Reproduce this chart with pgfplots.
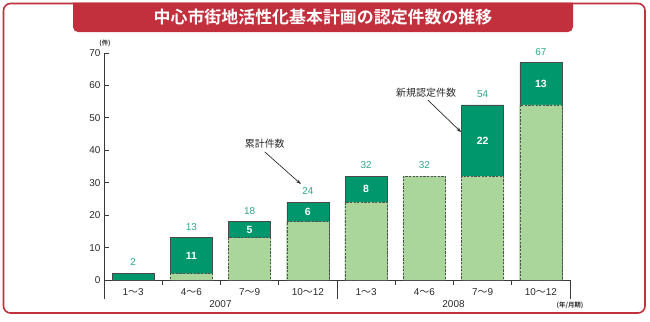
\documentclass[border=0pt]{standalone}
\usepackage{pgfplots}
\pgfplotsset{compat=1.18}
\usetikzlibrary{arrows.meta}
\usepackage{fontspec}
\setmainfont{Liberation Sans}
\newfontfamily\jp{Noto Sans CJK JP}[BoldFont={Noto Sans CJK JP Bold}]
\definecolor{dkgreen}{HTML}{00976C}
\definecolor{ltgreen}{HTML}{AAD59B}
\definecolor{labteal}{HTML}{2AA78B}
\definecolor{framered}{HTML}{C2303D}
\definecolor{axisgray}{HTML}{3A3A3A}
\definecolor{textgray}{HTML}{2A2A2A}
\definecolor{bardark}{HTML}{4A4A4A}
\definecolor{dashgray}{HTML}{4F4F4F}
\begin{document}
\begin{tikzpicture}
\begin{scope}[x=1bp,y=1bp]
\useasboundingbox (0,0) rectangle (650,321);
\draw[framered, line width=1.6bp, rounded corners=7bp] (3.5,317.5) rectangle (645,8);
\fill[framered] (73,318.3) [rounded corners=5bp] -- (73,289) -- (573,289) [sharp corners] -- (573,318.3) -- cycle;
\node[text=white, font=\jp\bfseries\fontsize{17}{20}\selectfont] at (323,304) {中心市街地活性化基本計画の認定件数の推移};
\end{scope}
\begin{axis}[at={(104bp,41bp)}, anchor=south west, scale only axis,
  width=466bp, height=227bp,
  xmin=-0.5, xmax=7.5, ymin=0, ymax=70,
  axis x line*=bottom, axis y line*=left,
  axis line style={-, line width=0.9bp, draw=axisgray},
  xtick=\empty, ytick={0,10,...,70},
  tick align=inside, major tick length=5bp,
  y tick style={line width=0.9bp, draw=axisgray},
  yticklabel style={font=\fontsize{10}{12}\selectfont, text=textgray},
  /pgf/number format/assume math mode=true,
  clip=false]
\addplot[ybar, bar width=42bp, bar shift=0pt, fill=dkgreen, draw=bardark, line width=0.7bp]
  coordinates {(0,2) (1,13) (2,18) (3,24) (4,32) (6,54) (7,67)};
\addplot[ybar, bar width=42.9bp, bar shift=0pt, fill=ltgreen, draw=none]
  coordinates {(1,2) (2,13) (3,18) (4,24) (5,32) (6,32) (7,54)};
\addplot[ybar, bar width=42bp, bar shift=0pt, fill=none, draw=dashgray, line width=0.7bp, dash pattern=on 2.2bp off 1.4bp]
  coordinates {(1,2) (2,13) (3,18) (4,24) (5,32) (6,32) (7,54)};
% cumulative labels
\addplot[draw=none, nodes near coords, point meta=explicit symbolic,
  nodes near coords style={anchor=center, yshift=11bp, text=labteal, font=\fontsize{10}{12}\selectfont}]
  coordinates {(0,2)[2] (1,13)[13] (2,18)[18] (3,24)[24] (4,32)[32] (5,32)[32] (6,54)[54] (7,67)[67]};
% new certification labels
\addplot[draw=none, nodes near coords, point meta=explicit symbolic,
  nodes near coords style={anchor=center, text=white, font=\bfseries\fontsize{10.5}{12}\selectfont}]
  coordinates {(1,7.5)[11] (2,15.5)[5] (3,21)[6] (4,28)[8] (6,43)[22] (7,60.5)[13]};
% separators
\pgfplotsinvokeforeach{0.5,1.5,2.5,4.5,5.5,6.5}{
  \draw[axisgray, line width=0.9bp] (axis cs:#1,0) -- ++(0pt,-5bp);
}
\pgfplotsinvokeforeach{-0.5,3.5,7.5}{
  \draw[axisgray, line width=0.9bp] (axis cs:#1,0) -- ++(0pt,-19bp);
}
% category labels
\node[font=\fontsize{10}{12}\selectfont, text=textgray, yshift=-12bp] at (axis cs:0,0) {1{\jp ～}3};
\node[font=\fontsize{10}{12}\selectfont, text=textgray, yshift=-12bp] at (axis cs:1,0) {4{\jp ～}6};
\node[font=\fontsize{10}{12}\selectfont, text=textgray, yshift=-12bp] at (axis cs:2,0) {7{\jp ～}9};
\node[font=\fontsize{10}{12}\selectfont, text=textgray, yshift=-12bp] at (axis cs:3,0) {10{\jp ～}12};
\node[font=\fontsize{10}{12}\selectfont, text=textgray, yshift=-12bp] at (axis cs:4,0) {1{\jp ～}3};
\node[font=\fontsize{10}{12}\selectfont, text=textgray, yshift=-12bp] at (axis cs:5,0) {4{\jp ～}6};
\node[font=\fontsize{10}{12}\selectfont, text=textgray, yshift=-12bp] at (axis cs:6,0) {7{\jp ～}9};
\node[font=\fontsize{10}{12}\selectfont, text=textgray, yshift=-12bp] at (axis cs:7,0) {10{\jp ～}12};
\node[font=\fontsize{10}{12}\selectfont, text=textgray, yshift=-24bp] at (axis cs:1.5,0) {2007};
\node[font=\fontsize{10}{12}\selectfont, text=textgray, yshift=-24bp] at (axis cs:5.5,0) {2008};
\node[font=\jp\bfseries\fontsize{6.5}{8}\selectfont, text=textgray, yshift=-25bp] at (axis cs:7.5,0) {(年/月期)};
\node[font=\jp\bfseries\fontsize{6.5}{8}\selectfont, text=textgray, xshift=1bp, yshift=10bp] at (axis cs:-0.5,70) {(件)};
% annotations
\node[font=\jp\fontsize{10}{12}\selectfont, text=textgray] at (axis cs:2.26,41.9) {累計件数};
\draw[-{Stealth[length=5bp,width=3.5bp]}, line width=0.7bp, draw=textgray] (axis cs:2.26,39.5) -- (axis cs:2.88,29.6);
\node[font=\jp\fontsize{10}{12}\selectfont, text=textgray] at (axis cs:5.03,57.7) {新規認定件数};
\draw[-{Stealth[length=5bp,width=3.5bp]}, line width=0.7bp, draw=textgray] (axis cs:5.06,55.5) -- (axis cs:5.63,45.6);
\end{axis}
\end{tikzpicture}
\end{document}
